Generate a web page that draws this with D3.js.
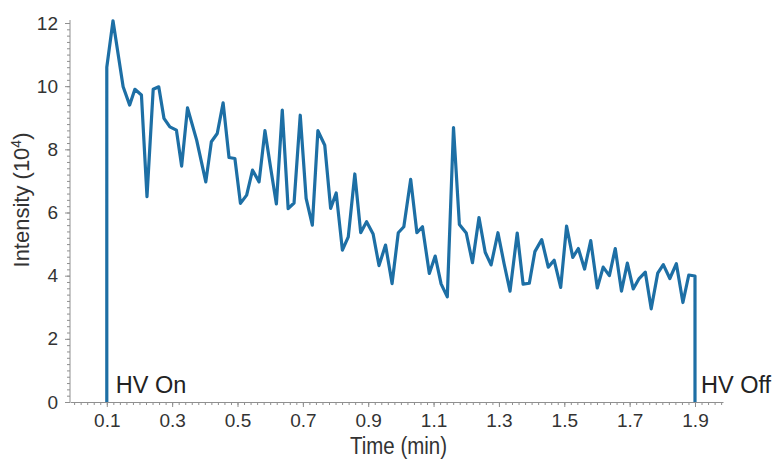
<!DOCTYPE html>
<html>
<head>
<meta charset="utf-8">
<script src="https://cdn.jsdelivr.net/npm/d3@7"></script>
<style>
  body { margin: 0; background: #fff; }
  text { font-family: "Liberation Sans", Arial, sans-serif; }
</style>
</head>
<body>
<div id="chart"></div>
<script>
// Time points (min)
var times = [0.1, 0.1, 0.119, 0.150, 0.170, 0.186, 0.206, 0.223, 0.242, 0.259, 0.275,
  0.293, 0.313, 0.329, 0.347, 0.375, 0.403, 0.420, 0.438, 0.456, 0.474,
  0.492, 0.509, 0.528, 0.546, 0.566, 0.584, 0.601, 0.619, 0.637, 0.655,
  0.673, 0.692, 0.710, 0.729, 0.746, 0.767, 0.785, 0.802, 0.821, 0.839,
  0.859, 0.877, 0.895, 0.915, 0.933, 0.953, 0.973, 0.992, 1.009, 1.030,
  1.049, 1.066, 1.087, 1.105, 1.123, 1.142, 1.161, 1.179, 1.200, 1.219,
  1.239, 1.258, 1.276, 1.297, 1.316, 1.334, 1.356, 1.374, 1.393, 1.410,
  1.431, 1.451, 1.469, 1.489, 1.507, 1.526, 1.543, 1.562, 1.581, 1.601,
  1.619, 1.638, 1.656, 1.675, 1.693, 1.711, 1.729, 1.748, 1.766, 1.786,
  1.803, 1.823, 1.843, 1.863, 1.881, 1.900, 1.900];

// Intensity (x 10^4)
var intensity = [0, 10.6, 12.07, 9.98, 9.40, 9.90, 9.72, 6.50, 9.90, 9.98, 8.98,
  8.71, 8.61, 7.47, 9.31, 8.29, 6.97, 8.24, 8.50, 9.47, 7.74,
  7.71, 6.29, 6.55, 7.34, 6.97, 8.59, 7.44, 6.27, 9.24, 6.12,
  6.30, 9.08, 6.45, 5.60, 8.59, 8.13, 6.13, 6.62, 4.81, 5.23,
  7.22, 5.36, 5.71, 5.32, 4.32, 4.97, 3.75, 5.36, 5.55, 7.05,
  5.36, 5.55, 4.07, 4.62, 3.74, 3.33, 8.69, 5.62, 5.35, 4.41,
  5.84, 4.74, 4.34, 5.36, 4.37, 3.51, 5.35, 3.73, 3.76, 4.76,
  5.14, 4.27, 4.49, 3.63, 5.57, 4.58, 4.86, 4.21, 5.11, 3.61,
  4.27, 4.00, 4.86, 3.51, 4.40, 3.58, 3.91, 4.11, 2.95, 4.08,
  4.35, 3.91, 4.38, 3.15, 4.02, 3.99, 0];

var xTickLabels = [0.1, 0.3, 0.5, 0.7, 0.9, 1.1, 1.3, 1.5, 1.7, 1.9];
var yTickLabels = [0, 2, 4, 6, 8, 10, 12];

var svgWidth = 781;
var svgHeight = 464;

var svg = d3.select("#chart")
  .append("svg")
  .attr("width", svgWidth)
  .attr("height", svgHeight);

// scales: x axis line runs a bit past both ends of the trace
var xScale = d3.scaleLinear()
  .domain([-0.0126, 1.9857])
  .range([70, 723]);

var yScale = d3.scaleLinear()
  .domain([0, 12])
  .range([402, 23]);

var axisColor = "#8f8f8f";
var labelColor = "#333";

// minor ticks
var xMinor = d3.range(0, 1.99, 0.02);
var yMinor = d3.range(0, 12.01, 0.2);

svg.append("g")
  .attr("transform", "translate(0,402)")
  .call(d3.axisBottom(xScale).tickValues(xMinor).tickSize(3).tickFormat("").tickSizeOuter(0))
  .call(g => g.selectAll("line,path").attr("stroke", axisColor));

svg.append("g")
  .attr("transform", "translate(70,0)")
  .call(d3.axisLeft(yScale).tickValues(yMinor).tickSize(3).tickFormat("").tickSizeOuter(0))
  .call(g => g.select(".domain").attr("d", "M0,402V20"))
  .call(g => g.selectAll("line,path").attr("stroke", axisColor));

// major ticks with labels
var xAxis = svg.append("g")
  .attr("transform", "translate(0,402)")
  .call(d3.axisBottom(xScale).tickValues(xTickLabels).tickSize(5).tickPadding(7)
    .tickFormat(d3.format(".1f")));
xAxis.select(".domain").remove();
xAxis.selectAll("line").attr("stroke", axisColor);
xAxis.selectAll("text")
  .attr("font-size", "19px")
  .attr("fill", labelColor)
  .attr("font-family", "Liberation Sans, Arial, sans-serif");

var yAxis = svg.append("g")
  .attr("transform", "translate(70,0)")
  .call(d3.axisLeft(yScale).tickValues(yTickLabels).tickSize(5).tickPadding(7));
yAxis.select(".domain").remove();
yAxis.selectAll("line").attr("stroke", axisColor);
yAxis.selectAll("text")
  .attr("font-size", "19px")
  .attr("fill", labelColor)
  .attr("font-family", "Liberation Sans, Arial, sans-serif");

// the trace
var points = times.map((t, i) => [t, intensity[i]]);

var line = d3.line()
  .x(d => xScale(d[0]))
  .y(d => yScale(d[1]));

svg.append("path")
  .datum(points)
  .attr("d", line)
  .attr("fill", "none")
  .attr("stroke", "#1d6fa5")
  .attr("stroke-width", 3.2)
  .attr("stroke-linejoin", "round");

// annotations
svg.append("text")
  .attr("x", xScale(0.1) + 9)
  .attr("y", 393)
  .attr("font-size", "23.5px")
  .attr("fill", "#222")
  .text("HV On");

svg.append("text")
  .attr("x", xScale(1.9) + 6)
  .attr("y", 393)
  .attr("font-size", "23.5px")
  .attr("fill", "#222")
  .text("HV Off");

// axis titles (the original type is a bit condensed)
svg.append("text")
  .attr("x", 398.5)
  .attr("y", 454)
  .attr("text-anchor", "middle")
  .attr("font-size", "23px")
  .attr("textLength", 97)
  .attr("lengthAdjust", "spacingAndGlyphs")
  .attr("fill", labelColor)
  .text("Time (min)");

var yTitle = svg.append("text")
  .attr("transform", "translate(29,200) rotate(-90)")
  .attr("text-anchor", "middle")
  .attr("font-size", "22px")
  .attr("fill", labelColor);
yTitle.append("tspan").text("Intensity (10");
yTitle.append("tspan").attr("dy", -8).attr("font-size", "14px").text("4");
yTitle.append("tspan").attr("dy", 8).text(")");
</script>
</body>
</html>
